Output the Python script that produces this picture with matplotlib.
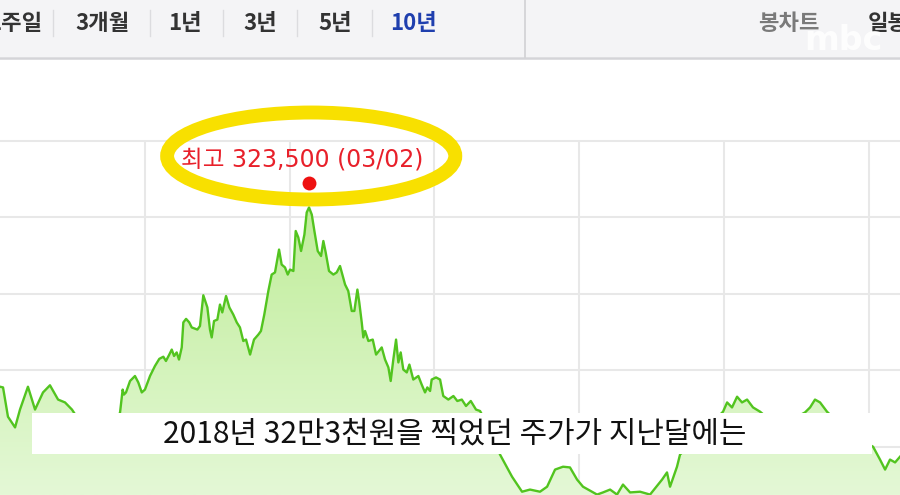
import matplotlib
matplotlib.use('Agg')
import matplotlib.pyplot as plt
import numpy as np
from matplotlib.patches import Ellipse, Rectangle
from matplotlib.colors import LinearSegmentedColormap
from matplotlib.transforms import offset_copy

plt.rcParams['font.family'] = ['Noto Sans CJK KR', 'DejaVu Sans']

# daily close sampled from the 10-year chart (year fraction, won)
t = [2016.000, 2016.021, 2016.055, 2016.104, 2016.138, 2016.193, 2016.242, 2016.297,
     2016.345, 2016.401, 2016.449, 2016.497, 2016.587, 2016.691, 2016.773, 2016.829,
     2016.847, 2016.856, 2016.870, 2016.898, 2016.932, 2016.955, 2016.979, 2017.001,
     2017.036, 2017.070, 2017.100, 2017.128, 2017.146, 2017.169, 2017.186, 2017.202,
     2017.220, 2017.236, 2017.255, 2017.266, 2017.285, 2017.307, 2017.324, 2017.363,
     2017.381, 2017.404, 2017.432, 2017.450, 2017.462, 2017.478, 2017.501, 2017.519,
     2017.535, 2017.561, 2017.584, 2017.611, 2017.635, 2017.657, 2017.680, 2017.699,
     2017.727, 2017.754, 2017.784, 2017.802, 2017.825, 2017.853, 2017.876, 2017.899,
     2017.927, 2017.945, 2017.968, 2017.987, 2018.003, 2018.026, 2018.042, 2018.060,
     2018.079, 2018.102, 2018.118, 2018.134, 2018.153, 2018.171, 2018.194, 2018.217,
     2018.233, 2018.249, 2018.272, 2018.302, 2018.325, 2018.348, 2018.364, 2018.383,
     2018.405, 2018.429, 2018.447, 2018.468, 2018.481, 2018.498, 2018.509, 2018.521,
     2018.544, 2018.574, 2018.597, 2018.636, 2018.659, 2018.682, 2018.698, 2018.716,
     2018.735, 2018.751, 2018.767, 2018.785, 2018.809, 2018.827, 2018.854, 2018.889,
     2018.912, 2018.935, 2018.951, 2018.970, 2018.981, 2019.011, 2019.039, 2019.061,
     2019.096, 2019.131, 2019.158, 2019.189, 2019.218, 2019.251, 2019.287, 2019.315,
     2019.384, 2019.453, 2019.536, 2019.605, 2019.660, 2019.729, 2019.778, 2019.833,
     2019.888, 2019.936, 2019.985, 2020.026, 2020.123, 2020.164, 2020.213, 2020.261,
     2020.302, 2020.351, 2020.420, 2020.489, 2020.572, 2020.606, 2020.627, 2020.675,
     2020.696, 2020.800, 2020.903, 2020.993, 2021.021, 2021.055, 2021.090, 2021.124,
     2021.159, 2021.200, 2021.249, 2021.352, 2021.470, 2021.559, 2021.594, 2021.628,
     2021.663, 2021.711, 2021.836, 2021.939, 2022.029, 2022.077, 2022.112, 2022.146,
     2022.181, 2022.215]
price = [198000, 197500, 177000, 169500, 182000, 198000, 182000, 194000,
         199000, 189000, 187000, 182000, 168000, 161000, 166500, 180000,
         196000, 192500, 194000, 202000, 205500, 201000, 194000, 196000,
         205500, 212500, 217500, 219000, 216000, 220500, 224000, 219500,
         222000, 217000, 225500, 243000, 245500, 243000, 239500, 238000,
         240500, 262000, 253500, 238000, 232500, 244000, 245000, 255500,
         250000, 261500, 253500, 248500, 243000, 239500, 230000, 231000,
         220500, 231000, 234500, 237000, 248500, 265000, 276500, 278000,
         294000, 283500, 281500, 276500, 280000, 279000, 307000, 302500,
         293000, 304500, 320000, 323500, 318500, 307000, 293000, 289500,
         300000, 292000, 279000, 276500, 278000, 282500, 276500, 269500,
         265000, 251000, 251000, 266000, 257000, 243000, 232500, 237000,
         230000, 231000, 220500, 225500, 217000, 211500, 202000, 217000,
         231000, 215000, 222000, 210000, 208000, 213500, 203000, 205500,
         199500, 194000, 197500, 195000, 203000, 204500, 203000, 191500,
         189000, 191500, 188000, 189000, 184500, 188000, 182000, 181000,
         168000, 150500, 135000, 124500, 126000, 124500, 128000, 140000,
         142000, 141500, 133000, 128000, 122500, 124000, 126000, 122500,
         129500, 124000, 124500, 122500, 133000, 138000, 128000, 142000,
         150500, 161000, 171500, 180500, 187000, 183500, 191000, 187000,
         189000, 183500, 180500, 171500, 175000, 180000, 183500, 189000,
         187000, 180500, 168000, 161000, 156000, 147000, 140000, 147000,
         145000, 149000]

peak_t = 2018.134
peak_price = 323500
peak_label = '최고 323,500 (03/02)'

years = [2017, 2018, 2019, 2020, 2021, 2022]
grid_prices = [156000, 209500, 263000, 316500]
y_min, y_max = 122200, 370000

tabs = ['1주일', '3개월', '1년', '3년', '5년', '10년']
tab_x = [42, 102, 185, 260, 335, 413]
subtitle = '2018년 32만3천원을 찍었던 주가가 지난달에는'

line_color = '#52c41f'
grid_color = '#e8e8e8'

fig = plt.figure(figsize=(9, 4.95), dpi=100)
fig.patch.set_facecolor('white')

# price chart
ax = fig.add_axes([0, 0, 1, 354 / 495])
ax.set_facecolor('white')
poly = ax.fill_between(t, price, y_min, facecolor='none', edgecolor='none')
grad = np.linspace(0, 1, 256).reshape(-1, 1)
cmap = LinearSegmentedColormap.from_list('fill', ['#e4f8d6', '#c0ed9a'])
im = ax.imshow(grad, extent=[t[0], t[-1], y_min, peak_price], origin='lower',
               cmap=cmap, aspect='auto', zorder=1, interpolation='bilinear')
im.set_clip_path(poly.get_paths()[0], transform=ax.transData)
ax.plot(t, price, color=line_color, lw=1.7, zorder=2)

ax.set_xlim(t[0], t[-1])
ax.set_ylim(y_min, y_max)
ax.set_xticks(years)
ax.set_yticks(grid_prices)
ax.grid(True, color=grid_color, lw=1.5, zorder=0)
ax.set_axisbelow(True)
ax.tick_params(length=0, labelbottom=False, labelleft=False)
for side in ['left', 'right', 'bottom']:
    ax.spines[side].set_visible(False)
ax.spines['top'].set_color(grid_color)
ax.spines['top'].set_linewidth(1.5)

# high-price marker and label
dot_tr = offset_copy(ax.transData, fig=fig, x=0, y=24, units='dots')
ax.plot(peak_t, peak_price, 'o', color='#ee1111', ms=10, mec='none',
        transform=dot_tr, clip_on=False, zorder=5)
lab_tr = offset_copy(ax.transData, fig=fig, x=-7, y=48, units='dots')
ax.text(peak_t, peak_price, peak_label, transform=lab_tr, color='#e8202a',
        fontsize=17, ha='center', va='center', zorder=5, clip_on=False,
        family=['DejaVu Sans', 'Noto Sans CJK KR'])
ax.add_patch(Ellipse((peak_t + 0.015, peak_price + 36000), 1.99, 60900,
                     fill=False, edgecolor='#f8e000', lw=10, zorder=6, clip_on=False))

# header bar, subtitle box (pixel overlay)
ov = fig.add_axes([0, 0, 1, 1], zorder=3)
ov.set_xlim(0, 900)
ov.set_ylim(495, 0)
ov.axis('off')
ov.patch.set_alpha(0)

ov.add_patch(Rectangle((0, 0), 900, 57, facecolor='#f4f4f6', edgecolor='none'))
ov.plot([0, 900], [57.5, 57.5], color='#d4d4d8', lw=1.8)
ov.plot([525, 525], [0, 57], color='#d0d0d4', lw=1.2)
for sx in [53, 150, 223, 297, 372]:
    ov.plot([sx, sx], [10, 36], color='#dcdcdf', lw=1)
for i, (lab, x) in enumerate(zip(tabs, tab_x)):
    ov.text(x, 23, lab, ha='right' if i == 0 else 'center', va='center', fontsize=16,
            fontweight='bold', color='#1f3fae' if lab == '10년' else '#333333')
ov.text(789, 23, '봉차트', ha='center', va='center', fontsize=16, fontweight='bold',
        color='#7a7a7a')
ov.text(868, 23, '일봉', ha='left', va='center', fontsize=16, fontweight='bold',
        color='#333333')
ov.text(843, 40, 'mbc', ha='center', va='center', fontsize=24, fontweight='bold',
        family='DejaVu Sans', color='white', alpha=0.85)

ov.add_patch(Rectangle((32, 413), 840, 41, facecolor='white', edgecolor='none'))
ov.text(455, 434, subtitle, ha='center', va='center', fontsize=21.5, color='#111111')

fig.savefig('out.png', dpi=100)
